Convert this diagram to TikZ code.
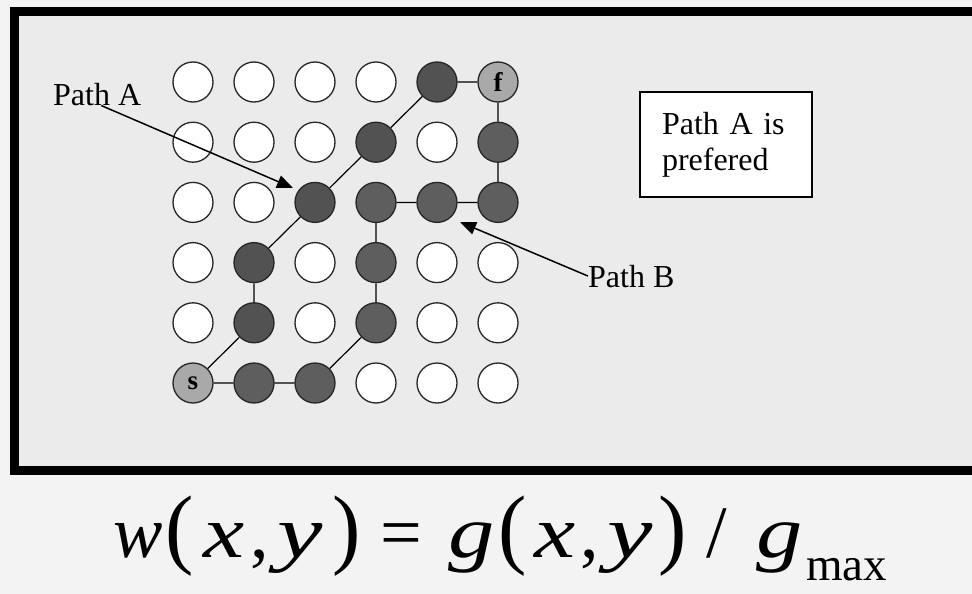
\documentclass[tikz,border=0pt]{standalone}
\usepackage{fontspec}
\setmainfont{Liberation Serif}
\usetikzlibrary{arrows.meta}
\definecolor{panel}{HTML}{EBEBEB}
\definecolor{page}{HTML}{F3F3F3}
\definecolor{darkA}{HTML}{525252}
\definecolor{darkB}{HTML}{5E5E5E}
\definecolor{termc}{HTML}{A9A9A9}
\newcommand\glyphbox[2]{\makebox[#1pt][l]{#2}}
\newcommand\tallparen[1]{\scalebox{1.15}[1.2]{#1}}
\newcommand\wideit[1]{\scalebox{1.25}[1]{\textit{#1}}}
\newcommand\widerit[1]{\scalebox{1.38}[1]{\textit{#1}}}
\begin{document}
\begin{tikzpicture}[x=1pt,y=-1pt,
 cell/.style={circle,draw=black!85,line width=1.3pt,minimum size=40pt,inner sep=0pt},
 free/.style={cell,fill=white},
 pa/.style={cell,fill=darkA},
 pb/.style={cell,fill=darkB},
 term/.style={cell,fill=termc,font=\fontsize{27}{27}\selectfont\bfseries},
 link/.style={line width=1.2pt},
 lbl/.style={font=\fontsize{32}{36}\selectfont,inner sep=0pt},
 pointer/.style={line width=1.5pt,-{Triangle[length=16pt,width=13pt]}}
]
\useasboundingbox (0,0) rectangle (972,594);
\fill[page] (0,0) rectangle (972,594);
\draw[line width=9pt, fill=panel] (14,12) rectangle (985,470);

% grid of cells (column, row counted from the bottom)
\foreach \c/\r/\s in {
  0/5/free,1/5/free,2/5/free,3/5/free,
  0/4/free,1/4/free,2/4/free,4/4/free,
  0/3/free,1/3/free,
  0/2/free,2/2/free,4/2/free,5/2/free,
  0/1/free,2/1/free,4/1/free,5/1/free,
  3/0/free,4/0/free,5/0/free,
  1/1/pa,1/2/pa,2/3/pa,3/4/pa,4/5/pa,
  1/0/pb,2/0/pb,3/1/pb,3/2/pb,3/3/pb,4/3/pb,5/3/pb,5/4/pb}
  \node[\s] (n\c\r) at ({193+61*\c},{383-60.2*\r}) {};
\node[term] (n00) at (193,383) {s};
\node[term] (n55) at (498,82) {f};

% path A
\draw[link] (n00) -- (n11) -- (n12) -- (n23) -- (n34) -- (n45) -- (n55);
% path B
\draw[link] (n00) -- (n10) -- (n20) -- (n31) -- (n32) -- (n33) -- (n43) -- (n53) -- (n54) -- (n55);

% labels and pointers
\node[lbl,anchor=base west] (labA) at (53,105) {Path A};
\coordinate (tipA) at (293,188);
\draw[pointer] ([xshift=4pt]labA.south) -- (tipA);

\node[lbl,anchor=base west] (labB) at (588,287) {Path B};
\coordinate (tipB) at (460,222);
\draw[pointer] (labB.west) -- (tipB);

% note box
\node[draw,line width=1.5pt,fill=white,minimum width=172pt,minimum height=105pt,
      text width=128pt,inner xsep=22pt,align=left,font=\fontsize{32}{36}\selectfont]
      (note) at (726,144.5) {Path A is\\prefered};

% formula
\node[anchor=base west,inner sep=0pt,font=\fontsize{74}{80}\selectfont] (formula) at (113,557)
 {\glyphbox{52}{\textit{w}}\glyphbox{38}{\tallparen{(}}\glyphbox{47}{\wideit{x}}\glyphbox{27}{,}\glyphbox{55}{\widerit{y}}\glyphbox{48}{\tallparen{)}}\glyphbox{68}{=}\glyphbox{50}{\wideit{g}}\glyphbox{36}{\tallparen{(}}\glyphbox{46}{\wideit{x}}\glyphbox{27}{,}\glyphbox{51}{\widerit{y}}\glyphbox{48}{\tallparen{)}}\glyphbox{50}{/}\glyphbox{50}{\wideit{g}}\raisebox{-23pt}{\fontsize{47}{47}\selectfont max}};
\end{tikzpicture}
\end{document}
